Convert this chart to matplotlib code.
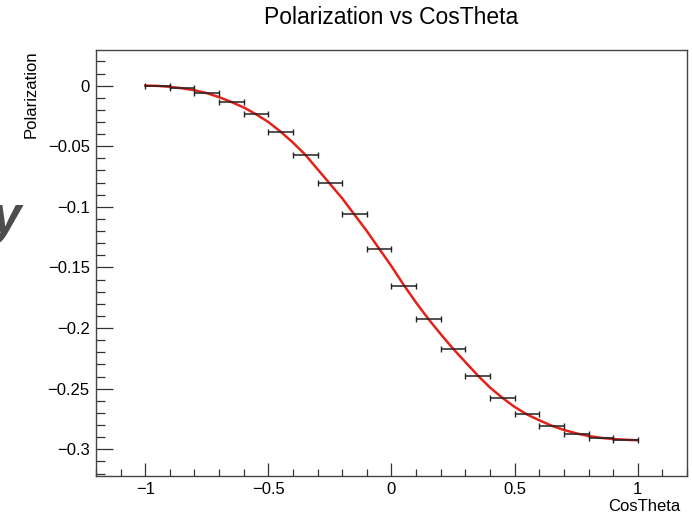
import matplotlib
matplotlib.use("Agg")
import matplotlib.pyplot as plt
from matplotlib.ticker import MultipleLocator

plt.rcParams['font.family'] = ['Liberation Sans', 'DejaVu Sans']

# pontos medidos (centro do bin, meia largura 0.05)
cos_theta = [-0.95, -0.85, -0.75, -0.65, -0.55, -0.45, -0.35, -0.25, -0.15, -0.05,
             0.05, 0.15, 0.25, 0.35, 0.45, 0.55, 0.65, 0.75, 0.85, 0.95]
polarization = [0.0, -0.0019, -0.0061, -0.0138, -0.0234, -0.038, -0.0576, -0.0804, -0.1058, -0.135,
                -0.1653, -0.1923, -0.2171, -0.2391, -0.2579, -0.2708, -0.281, -0.287, -0.2909, -0.2923]
x_err = [0.05] * 20

# curva vermelha (ajuste)
fit_x = [-1.0, -0.95, -0.9, -0.85, -0.8, -0.75, -0.7, -0.65, -0.6, -0.55, -0.5, -0.45, -0.4,
         -0.35, -0.3, -0.25, -0.2, -0.15, -0.1, -0.05, 0.0, 0.05, 0.1, 0.15, 0.2, 0.25, 0.3,
         0.35, 0.4, 0.45, 0.5, 0.55, 0.6, 0.65, 0.7, 0.75, 0.8, 0.85, 0.9, 0.95, 1.0]
fit_y = [0.0, -0.0002, -0.001, -0.0022, -0.0038, -0.0062, -0.0095, -0.0135, -0.018, -0.0236,
         -0.030, -0.038, -0.047, -0.057, -0.069, -0.081, -0.093, -0.1065, -0.120, -0.1345,
         -0.149, -0.1645, -0.179, -0.1925, -0.205, -0.217, -0.228, -0.239, -0.249, -0.2575,
         -0.265, -0.2712, -0.276, -0.2805, -0.284, -0.2868, -0.289, -0.2905, -0.2915, -0.2921, -0.2925]

fig = plt.figure(figsize=(6.92, 5.15), dpi=100)
ax = fig.add_axes([0.1387, 0.0757, 0.8541, 0.8263])

ax.plot(fit_x, fit_y, color='#e3221b', lw=1.8, zorder=2)
ax.errorbar(cos_theta, polarization, xerr=x_err, fmt='none', ecolor='#222222',
            elinewidth=1.1, capsize=2.2, capthick=1.0, zorder=3)

ax.set_xlim(-1.2, 1.2)
ax.set_ylim(-0.322, 0.029)

ax.xaxis.set_major_locator(MultipleLocator(0.5))
ax.xaxis.set_minor_locator(MultipleLocator(0.1))
ax.yaxis.set_major_locator(MultipleLocator(0.05))
ax.yaxis.set_minor_locator(MultipleLocator(0.01))
ax.set_xticks([-1, -0.5, 0, 0.5, 1])
ax.set_xticklabels(['\u22121', '\u22120.5', '0', '0.5', '1'])
ax.set_yticks([0, -0.05, -0.1, -0.15, -0.2, -0.25, -0.3])
ax.set_yticklabels(['0', '\u22120.05', '\u22120.1', '\u22120.15', '\u22120.2', '\u22120.25', '\u22120.3'])

ax.tick_params(axis='x', which='major', direction='in', length=9.4, width=0.9,
               labelsize=12, pad=4, color='#333333', top=False)
ax.tick_params(axis='x', which='minor', direction='in', length=5, width=0.9,
               color='#333333', top=False)
ax.tick_params(axis='y', which='major', direction='in', length=12.2, width=0.9,
               labelsize=12, pad=4.5, color='#333333', right=False)
ax.tick_params(axis='y', which='minor', direction='in', length=6.3, width=0.9,
               color='#333333', right=False)

for s in ax.spines.values():
    s.set_color('#444444')
    s.set_linewidth(1.0)

fig.text(0.5645, 0.966, 'Polarization vs CosTheta', ha='center', va='center', fontsize=16.5)
fig.text(0.983, 0.016, 'CosTheta', ha='right', va='center', fontsize=12)
fig.text(0.045, 0.903, 'Polarization', ha='center', va='top', rotation=90, fontsize=12)

# pedaco de letra cortada na margem esquerda
fig.text(-0.013, 0.548, 'y', ha='left', va='baseline', fontsize=38, fontweight='bold',
         fontstyle='italic', color='#4d4d4d')

fig.savefig('out.png', dpi=100)
